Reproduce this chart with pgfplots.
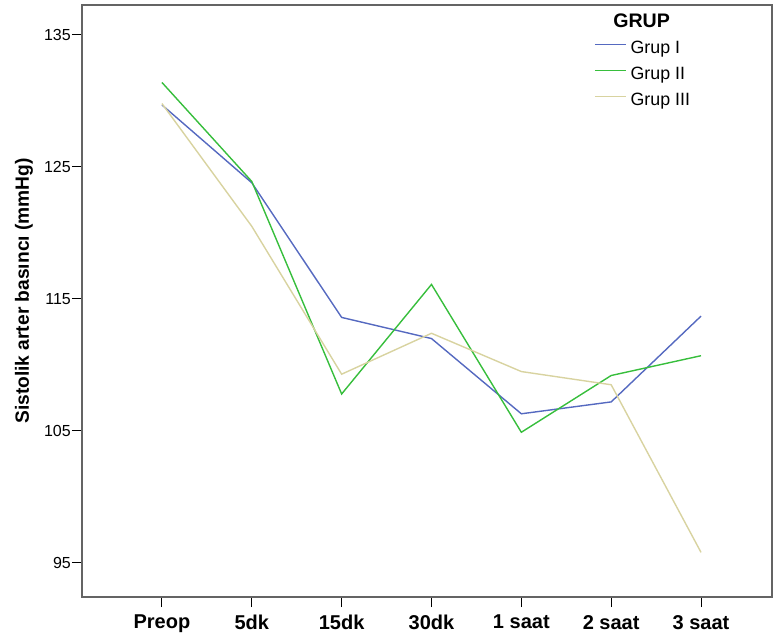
\documentclass[border=0pt]{standalone}
\usepackage{fontspec}
\setmainfont{Liberation Sans}
\usepackage{pgfplots}
\pgfplotsset{compat=1.18}
\definecolor{gA}{RGB}{85,105,192}
\definecolor{gB}{RGB}{55,190,60}
\definecolor{gC}{RGB}{216,211,160}
\definecolor{frame}{RGB}{100,100,100}
\begin{document}
\begin{tikzpicture}
\useasboundingbox (-82pt,-38pt) rectangle (692pt,597pt);
\begin{axis}[
  at={(0pt,0pt)}, anchor=south west,
  scale only axis, width=690pt, height=592pt,
  xmin=-0.89, xmax=6.79, ymin=92.42, ymax=137.27,
  xtick={0,1,2,3,4,5,6},
  xticklabels={Preop,5dk,15dk,30dk,1 saat,2 saat,3 saat},
  ytick={95,105,115,125,135},
  /pgf/number format/assume math mode=true,
  tick align=outside, major tick length=10pt,
  xtick pos=bottom, ytick pos=left,
  axis line style={frame, line width=1.2pt},
  tick style={black, line width=1pt},
  xticklabel style={font=\fontsize{20}{24}\selectfont\bfseries, inner sep=0pt, anchor=north, yshift=-8pt},
  yticklabel style={font=\fontsize{16}{19}\selectfont, inner sep=1pt, anchor=east},
  ylabel={\textbf{Sistolik arter basıncı (mmHg)}},
  every axis y label/.style={at={(axis description cs:-0.0841,0.517)}, anchor=center, rotate=90, font=\fontsize{19.2}{23}\selectfont},
  legend style={at={(rel axis cs:0.7377,0.944)}, anchor=north west, draw=none, fill=none,
    font=\fontsize{17.8}{21}\selectfont,
    nodes={inner sep=0pt, text height=13pt, text depth=4pt},
    row sep=9pt, column sep=4pt},
  legend cell align=left,
  legend image code/.code={\draw[#1] (0pt,4.5pt) -- (31pt,4.5pt);},
]
\addplot[gA, line width=1.4pt] coordinates {(0,129.7) (1,123.8) (2,113.6) (3,112.0) (4,106.3) (5,107.2) (6,113.7)};
\addlegendentry{Grup I}
\addplot[gB, line width=1.4pt] coordinates {(0,131.4) (1,123.9) (2,107.8) (3,116.1) (4,104.9) (5,109.2) (6,110.7)};
\addlegendentry{Grup II}
\addplot[gC, line width=1.4pt] coordinates {(0,129.8) (1,120.5) (2,109.3) (3,112.4) (4,109.5) (5,108.5) (6,95.8)};
\addlegendentry{Grup III}
\node[font=\fontsize{19.6}{23}\selectfont\bfseries, anchor=center] at (rel axis cs:0.811,0.9735) {GRUP};
\end{axis}
\end{tikzpicture}
\end{document}
